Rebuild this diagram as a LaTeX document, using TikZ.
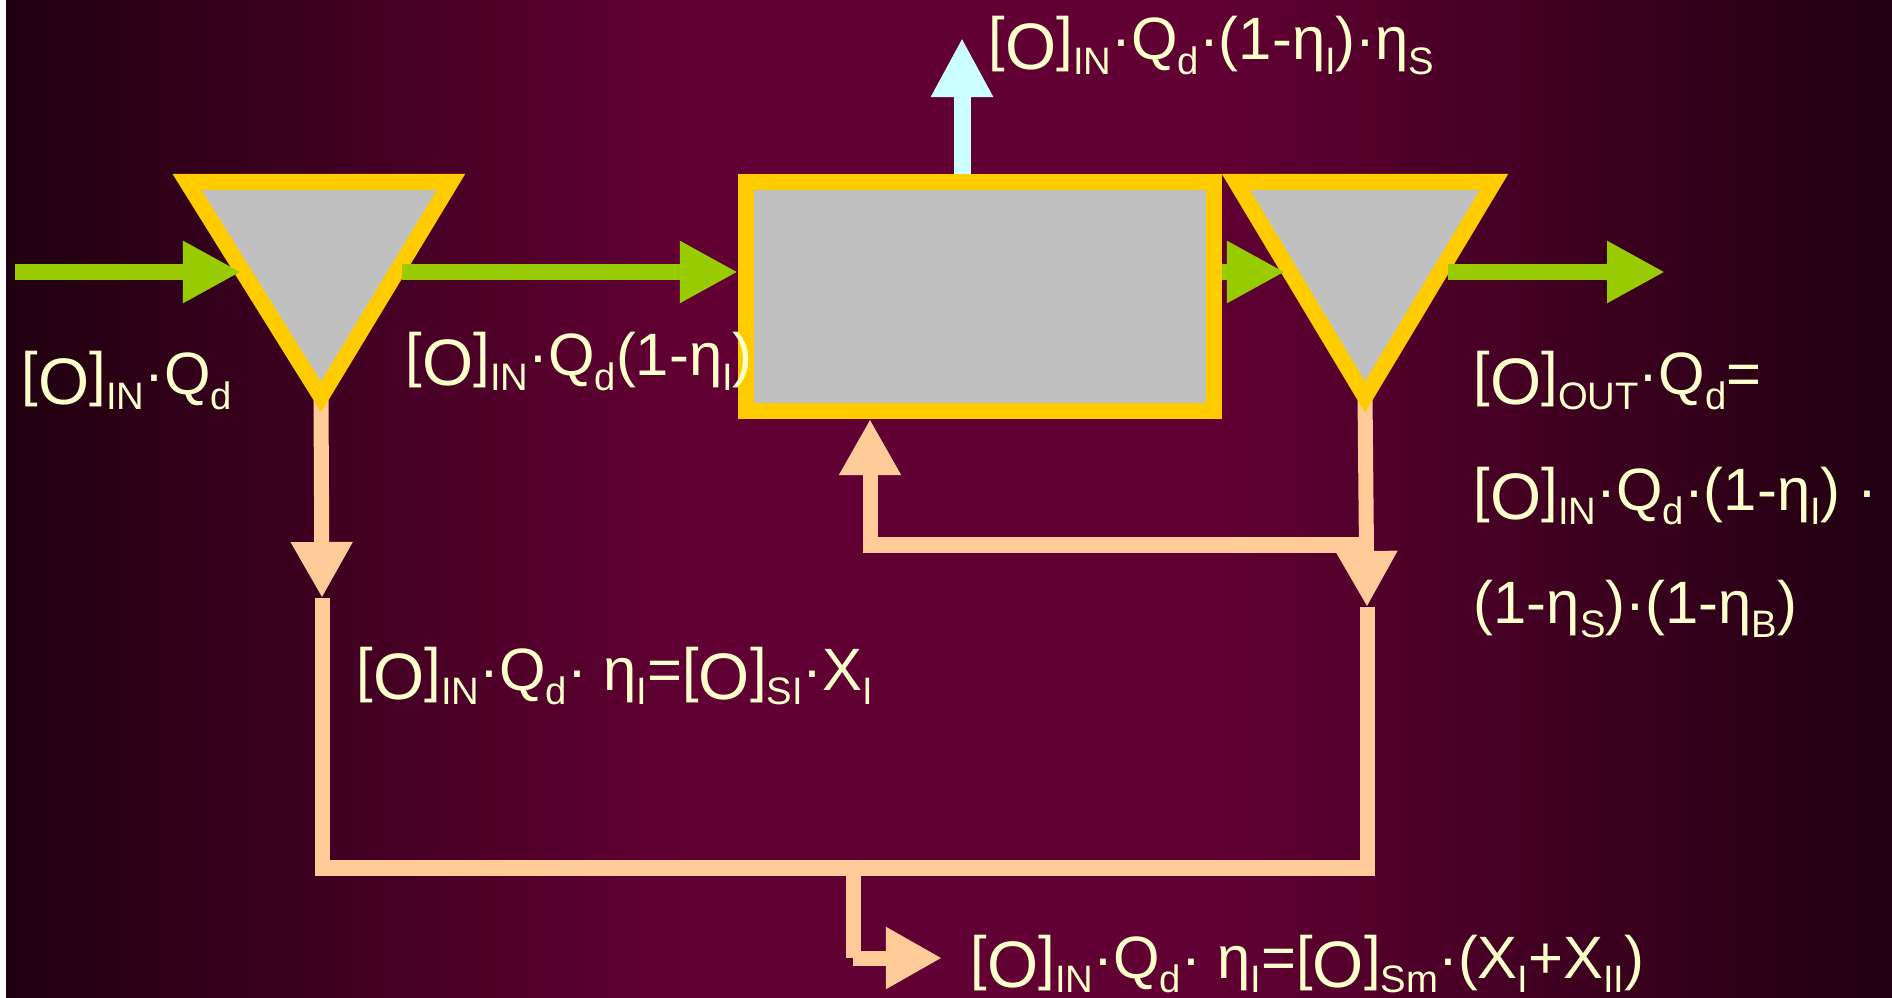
\documentclass[tikz,border=0pt]{standalone}
\usepackage{fontspec}
\setmainfont{Liberation Sans}
\usepackage{graphicx}
\usetikzlibrary{positioning,arrows.meta}
\definecolor{amarillo}{RGB}{255,204,0}
\definecolor{gris}{RGB}{192,192,192}
\definecolor{verde}{RGB}{153,204,0}
\definecolor{salmon}{RGB}{255,204,153}
\definecolor{celeste}{RGB}{204,255,255}
\definecolor{crema}{RGB}{255,255,204}
\definecolor{fondoborde}{RGB}{32,0,16}
\definecolor{fondocentro}{RGB}{97,0,51}
\pgfdeclarehorizontalshading{fondo}{100bp}{color(0bp)=(fondoborde); color(25bp)=(fondoborde);
  color(43bp)=(fondocentro); color(57bp)=(fondocentro); color(75bp)=(fondoborde); color(100bp)=(fondoborde)}
\newcommand{\corO}{[\raisebox{-0.16em}{\scalebox{1.1}{O}}]}
\newcommand{\bajo}[1]{\raisebox{-0.24em}{\scalebox{0.64}{#1}}}

\begin{document}
\begin{tikzpicture}[x=0.01cm, y=-0.01cm,
  deposito/.style={draw=amarillo, fill=gris, line width=1.6mm},
  caudal/.style={-{Triangle[length=5.8mm, width=5.8mm]}, line width=1.6mm, color=verde},
  lodo/.style={line width=1.5mm, color=salmon},
  flechalodo/.style={lodo, -{Triangle[length=5.6mm, width=5.8mm]}},
  flotante/.style={-{Triangle[length=5.9mm, width=5.8mm]}, line width=1.7mm, color=celeste},
  etiqueta/.style={text=crema, font=\fontsize{17}{20}\selectfont, inner sep=0pt, anchor=base west}]
  \useasboundingbox (0,0) rectangle (1892,998);
  \fill[white] (0,0) rectangle (1892,998);
  \shade[shading=fondo] (6,0) rectangle (1892,998);
  % puntos de paso
  \coordinate (entrada) at (15,272);
  \coordinate (s1) at (321,397);
  \coordinate (s2) at (1365,397);
  \coordinate (p1) at (322,598);
  \coordinate (p2) at (1367,607);
  \coordinate (r1) at (1365,545);
  \coordinate (r2) at (870,545);
  \coordinate (q1) at (322,868);
  \coordinate (q2) at (1367,868);
  \coordinate (m1) at (853,868);
  \coordinate (m2) at (853,958);
  \coordinate (purga) at (942,958);
  \coordinate (espuma) at (962,38);
  % lodos
  \draw[flechalodo] (s1) -- (p1);
  \draw[lodo] (p1) -- (q1) -- (q2) -- (p2);
  \draw[flechalodo] (s2) -- (p2);
  \draw[lodo] (m1) -- (m2);
  \draw[flechalodo] (m2) -- (purga);
  % decantadores y reactor
  \draw[deposito] (187,182) coordinate (t1l) -- (451,182) coordinate (t1r) -- (s1) -- cycle;
  \draw[deposito] (1236,182) coordinate (t2l) -- (1494,182) coordinate (t2r) -- (s2) -- cycle;
  \node[deposito, minimum width=4.68cm, minimum height=2.29cm] (reactor) at (980,296.5) {};
  \draw[flechalodo] (r1) -- (r2) -- (r2 |- reactor.south);
  \draw[flotante] (reactor.north -| espuma) -- (espuma);
  % linea de agua
  \coordinate (a1) at (241,272);
  \coordinate (a2) at (402,272);
  \coordinate (a3) at (1285,272);
  \coordinate (a4) at (1448,272);
  \coordinate (salida) at (1665,272);
  \draw[caudal] (entrada) -- (a1);
  \draw[caudal] (a2) -- (reactor.west |- a2);
  \draw[caudal] (reactor.east |- a3) -- (a3);
  \draw[caudal] (a4) -- (salida);
  % balances
  \node[etiqueta] (lin) at (21,395) {\corO\bajo{IN}·Q\bajo{d}};
  \node[etiqueta] (lr) at (405,376) {\corO\bajo{IN}·Q\bajo{d}(1-η\bajo{I})};
  \node[etiqueta] (lsup) at (988,60) {\corO\bajo{IN}·Q\bajo{d}·(1-η\bajo{I})·η\bajo{S}};
  \node[etiqueta] (lout) at (1473,395) {\corO\bajo{OUT}·Q\bajo{d}=};
  \node[etiqueta] (lout2) at ([yshift=-1.15cm]lout.base west) {\corO\bajo{IN}·Q\bajo{d}·(1-η\bajo{I}) ·};
  \node[etiqueta] (lout3) at ([yshift=-1.13cm]lout2.base west) {(1-η\bajo{S})·(1-η\bajo{B})};
  \node[etiqueta] (lsi) at (356,690) {\corO\bajo{IN}·Q\bajo{d}· η\bajo{I}=\corO\bajo{SI}·X\bajo{I}};
  \node[etiqueta] (lsm) at (970,978) {\corO\bajo{IN}·Q\bajo{d}· η\bajo{I}=\corO\bajo{Sm}·(X\bajo{I}+X\bajo{II})};
\end{tikzpicture}
\end{document}
